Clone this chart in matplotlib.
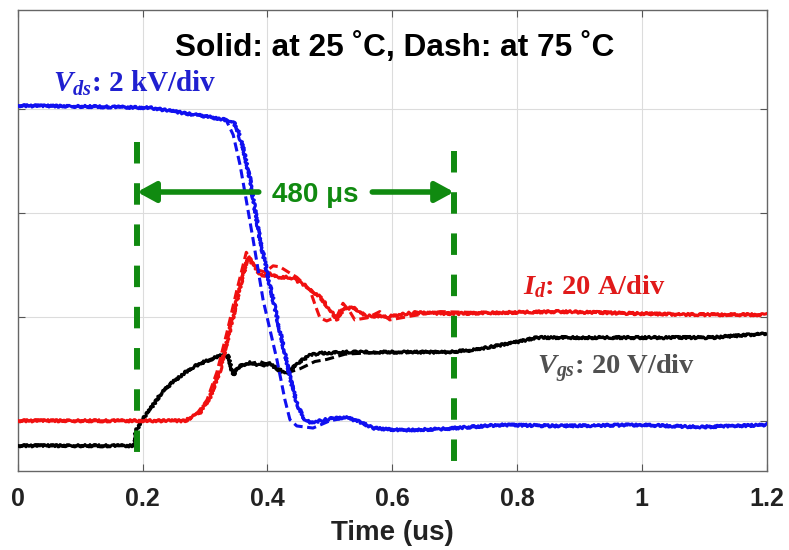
import numpy as np
import matplotlib
matplotlib.use('Agg')
import matplotlib.pyplot as plt

plt.rcParams['font.family'] = ['Liberation Sans', 'DejaVu Sans']
plt.rcParams['mathtext.fontset'] = 'custom'
plt.rcParams['mathtext.it'] = 'Liberation Serif:bold:italic'
plt.rcParams['mathtext.rm'] = 'Liberation Serif:bold'
plt.rcParams['mathtext.bf'] = 'Liberation Serif:bold'

# Waveforms (time in us, amplitude in divisions)
vdsTime25 = [0, 0.131, 0.212, 0.265, 0.319, 0.345, 0.353, 0.361, 0.372, 0.388, 0.404, 0.420,
             0.436, 0.447, 0.457, 0.468, 0.50, 0.527, 0.548, 0.569, 0.612, 0.677, 0.773,
             0.869, 0.997, 1.093, 1.2]
vdsValue25 = [3.03, 3.02, 3.01, 2.96, 2.91, 2.88, 2.78, 2.62, 2.32, 1.74, 1.30, 0.86,
              0.42, 0.17, 0.03, -0.02, 0.02, 0.03, -0.01, -0.07, -0.09, -0.08, -0.04,
              -0.05, -0.04, -0.06, -0.04]
vdsTime75 = [0, 0.131, 0.212, 0.265, 0.319, 0.333, 0.345, 0.356, 0.366, 0.377, 0.393, 0.415,
             0.428, 0.436, 0.447, 0.473, 0.50, 0.527, 0.548, 0.569, 0.612, 0.677, 0.773,
             0.869, 0.997, 1.093, 1.2]
vdsValue75 = [3.03, 3.02, 3.01, 2.96, 2.91, 2.90, 2.75, 2.46, 2.12, 1.74, 1.16, 0.59,
              0.20, 0.01, -0.05, -0.07, 0.0, 0.03, -0.01, -0.07, -0.09, -0.08, -0.04,
              -0.05, -0.04, -0.06, -0.04]

idTime25 = [0, 0.268, 0.292, 0.308, 0.324, 0.340, 0.356, 0.369, 0.380, 0.391, 0.404, 0.415,
            0.425, 0.436, 0.452, 0.463, 0.484, 0.500, 0.511, 0.521, 0.537, 0.548, 0.560,
            0.592, 0.633, 0.697, 0.773, 0.869, 0.997, 1.093, 1.2]
idValue25 = [0.0, 0.0, 0.08, 0.23, 0.49, 0.88, 1.29, 1.58, 1.47, 1.39, 1.42, 1.38,
             1.38, 1.38, 1.33, 1.29, 1.19, 1.07, 0.97, 1.07, 1.09, 1.04, 1.01,
             1.00, 1.04, 1.03, 1.04, 1.05, 1.03, 1.02, 1.02]
idTime75 = [0, 0.268, 0.287, 0.303, 0.319, 0.335, 0.351, 0.366, 0.375, 0.385, 0.396, 0.409,
            0.420, 0.436, 0.447, 0.468, 0.476, 0.484, 0.495, 0.511, 0.521, 0.532, 0.540,
            0.560, 0.580, 0.596, 0.633, 0.677, 0.741, 0.869, 0.997, 1.093, 1.2]
idValue75 = [0.0, 0.0, 0.07, 0.20, 0.47, 0.85, 1.26, 1.62, 1.53, 1.45, 1.43, 1.49,
             1.48, 1.42, 1.38, 1.26, 1.12, 0.99, 0.96, 1.00, 1.13, 1.05, 0.97,
             0.99, 1.05, 0.97, 1.01, 1.05, 1.04, 1.05, 1.03, 1.02, 1.02]

vgsTime25 = [0, 0.186, 0.189, 0.196, 0.212, 0.228, 0.244, 0.260, 0.276, 0.292, 0.308, 0.327,
             0.337, 0.345, 0.356, 0.372, 0.388, 0.404, 0.420, 0.431, 0.447, 0.468, 0.484,
             0.527, 0.580, 0.688, 0.729, 0.794, 0.832, 0.954, 1.114, 1.2]
vgsValue25 = [-0.24, -0.24, -0.10, -0.02, 0.11, 0.25, 0.35, 0.43, 0.50, 0.55, 0.59, 0.63,
              0.62, 0.44, 0.53, 0.56, 0.53, 0.55, 0.48, 0.45, 0.55, 0.63, 0.65,
              0.66, 0.66, 0.66, 0.68, 0.75, 0.80, 0.80, 0.80, 0.84]
vgsTime75 = [0, 0.186, 0.189, 0.196, 0.212, 0.228, 0.244, 0.260, 0.276, 0.292, 0.308, 0.327,
             0.337, 0.342, 0.363, 0.388, 0.412, 0.436, 0.452, 0.476, 0.495, 0.524,
             0.580, 0.688, 0.729, 0.794, 0.832, 0.954, 1.114, 1.2]
vgsValue75 = [-0.24, -0.24, -0.10, -0.02, 0.11, 0.25, 0.35, 0.43, 0.50, 0.55, 0.59, 0.63,
              0.62, 0.47, 0.54, 0.57, 0.51, 0.47, 0.50, 0.57, 0.59, 0.64,
              0.66, 0.66, 0.68, 0.75, 0.80, 0.80, 0.80, 0.84]

xTickValues = [0, 0.2, 0.4, 0.6, 0.8, 1.0, 1.2]
xTickLabels = ['0', '0.2', '0.4', '0.6', '0.8', '1', '1.2']
markerTimes = [0.191, 0.699]   # start / end of the 480 us window
markerTops = [2.68, 2.59]

blueColor = '#1010f0'
redColor = '#f01010'
greenColor = '#108a10'

fig = plt.figure(figsize=(7.89, 5.5), dpi=100)
ax = fig.add_axes([0.0228, 0.1442, 0.9487, 0.8376])

traceWidth = 2.2
dashStyle = (0, (3.0, 1.5))
for t, v, c, ls in [(vgsTime75, vgsValue75, 'black', dashStyle),
                    (vgsTime25, vgsValue25, 'black', '-'),
                    (idTime75, idValue75, redColor, dashStyle),
                    (idTime25, idValue25, redColor, '-'),
                    (vdsTime75, vdsValue75, blueColor, dashStyle),
                    (vdsTime25, vdsValue25, blueColor, '-')]:
    line, = ax.plot(t, v, color=c, lw=traceWidth, linestyle=ls, zorder=3)
    if ls == '-':
        line.set_sketch_params(scale=1.2, length=3, randomness=4)

# green time window markers, drawn top-down so a dash starts at the top
for xm, top in zip(markerTimes, markerTops):
    ax.plot([xm, xm], [top, -0.5], color=greenColor, lw=4.3,
            dashes=(3.6, 3.3), solid_capstyle='butt', dash_capstyle='butt', zorder=4)

arrowY = 2.20
arrowProps = dict(arrowstyle='-|>,head_length=0.55,head_width=0.3', mutation_scale=20,
                  color=greenColor, lw=4, shrinkA=0, shrinkB=0)
ax.annotate('', xy=(markerTimes[0], arrowY), xytext=(0.386, arrowY), arrowprops=arrowProps, zorder=5)
ax.annotate('', xy=(markerTimes[1], arrowY), xytext=(0.568, arrowY), arrowprops=arrowProps, zorder=5)
ax.text(0.476, 2.10, '480 \u03bcs', color=greenColor, fontsize=20, fontweight='bold',
        ha='center', va='baseline', zorder=5)

ax.text(0.604, 3.51, 'Solid: at 25 \u02daC, Dash: at 75 \u02daC', fontsize=22.8,
        fontweight='bold', ha='center', va='baseline')
ax.text(0.056, 3.16, r'$V_{ds}$: 2 kV/div', color='#2020d0', fontsize=21,
        family='Liberation Serif', fontweight='bold', ha='left', va='baseline')
ax.text(0.81, 1.22, r'$I_{d}$: 20 A/div', color='#e01a1a', fontsize=20.5,
        family='Liberation Serif', fontweight='bold', ha='left', va='baseline')
ax.text(0.832, 0.45, r'$V_{gs}$: 20 V/div', color='#505050', fontsize=20.5,
        family='Liberation Serif', fontweight='bold', ha='left', va='baseline')

ax.set_xlim(0, 1.2)
ax.set_ylim(-0.48, 3.95)
ax.set_xticks(xTickValues)
ax.set_xticklabels(xTickLabels)
ax.set_yticks([0, 1, 2, 3])
ax.set_yticklabels([])
ax.grid(True, color='#dcdcdc', lw=0.8)
ax.set_axisbelow(True)
ax.tick_params(direction='in', length=5, width=0.8, color='#555555',
               top=True, right=True, labelsize=18, pad=12)
for lbl in ax.get_xticklabels():
    lbl.set_fontweight('bold')
    lbl.set_color('#222222')
for s in ax.spines.values():
    s.set_color('#666666')
    s.set_linewidth(1.0)
ax.set_xlabel('Time (us)', fontsize=20, fontweight='bold', color='#222222', labelpad=6)

fig.savefig('out.png', dpi=100)
